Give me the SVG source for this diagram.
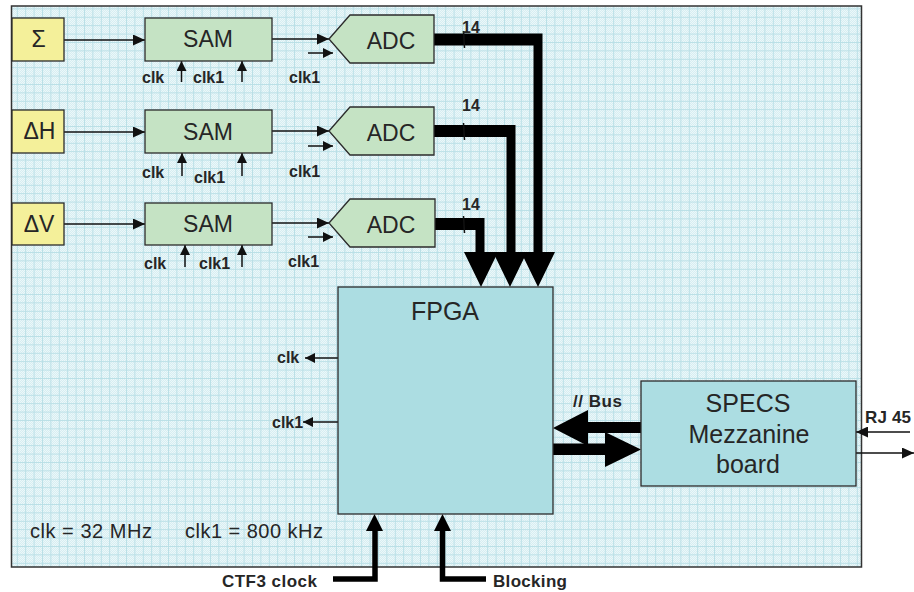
<svg xmlns="http://www.w3.org/2000/svg" width="914" height="592" viewBox="0 0 914 592">
<style>
.box{stroke:#2b2b2b;stroke-width:1.3}
.yel{fill:#f4f09a}
.grn{fill:#c5e3c4}
.cyan{fill:#acdde2}
.big{font-family:"Liberation Sans",Arial,sans-serif;font-size:23px;fill:#262626;text-anchor:middle}
.huge{font-family:"Liberation Sans",Arial,sans-serif;font-size:25px;fill:#262626;text-anchor:middle}
.lbl{font-family:"Liberation Sans",Arial,sans-serif;font-weight:bold;font-size:16px;fill:#262626}
.lbl2{font-family:"Liberation Sans",Arial,sans-serif;font-weight:bold;font-size:17px;fill:#262626}
.reg{font-family:"Liberation Sans",Arial,sans-serif;font-size:20px;fill:#262626}
.thin{stroke:#111;stroke-width:1.5;fill:none}
.bus{fill:#000}
</style>
<defs>
<pattern id="dots" width="2" height="2" patternUnits="userSpaceOnUse"><rect width="2" height="2" fill="#d6eef2"/><rect width="1" height="1" fill="#ecf7f9"/><rect x="1" y="1" width="1" height="1" fill="#ecf7f9"/></pattern>
<pattern id="grid" width="8.4" height="8.4" patternUnits="userSpaceOnUse"><path d="M0 0.5H8.4M0.5 0V8.4" stroke="#b9dfe6" stroke-width="1" fill="none"/></pattern>
<marker id="ah" markerUnits="userSpaceOnUse" markerWidth="12" markerHeight="11" refX="12" refY="5.5" orient="auto"><path d="M0,0L12,5.5L0,11z" fill="#111"/></marker>
<marker id="ahs" markerUnits="userSpaceOnUse" markerWidth="10" markerHeight="10" refX="10" refY="5" orient="auto"><path d="M0,0L10,5L0,10z" fill="#111"/></marker>
</defs>
<g id="board">
<rect x="11.5" y="6" width="850" height="561" fill="url(#dots)"/>
<rect x="11.5" y="6" width="850" height="561" fill="url(#grid)"/>
<rect x="11.5" y="6" width="850" height="561" fill="none" stroke="#333" stroke-width="1.5"/>
</g>
<g id="connectors">
<line class="thin" x1="64" y1="40" x2="145" y2="40" marker-end="url(#ah)"/>
<line class="thin" x1="64" y1="132" x2="145" y2="132" marker-end="url(#ah)"/>
<line class="thin" x1="64" y1="224" x2="145" y2="224" marker-end="url(#ah)"/>
<line class="thin" x1="272" y1="39" x2="329" y2="39" marker-end="url(#ah)"/>
<line class="thin" x1="272" y1="131" x2="329" y2="131" marker-end="url(#ah)"/>
<line class="thin" x1="272" y1="223" x2="329" y2="223" marker-end="url(#ah)"/>
<line class="thin" x1="308" y1="53" x2="333" y2="53" marker-end="url(#ahs)"/>
<line class="thin" x1="308" y1="146" x2="333" y2="146" marker-end="url(#ahs)"/>
<line class="thin" x1="308" y1="237" x2="333" y2="237" marker-end="url(#ahs)"/>
<line class="thin" x1="181.5" y1="82" x2="181.5" y2="61" marker-end="url(#ahs)"/>
<line class="thin" x1="242" y1="82" x2="242" y2="61" marker-end="url(#ahs)"/>
<line class="thin" x1="182" y1="176" x2="182" y2="153" marker-end="url(#ahs)"/>
<line class="thin" x1="242" y1="176" x2="242" y2="153" marker-end="url(#ahs)"/>
<line class="thin" x1="185" y1="267" x2="185" y2="245" marker-end="url(#ahs)"/>
<line class="thin" x1="242" y1="267" x2="242" y2="245" marker-end="url(#ahs)"/>
<path class="bus" d="M434 33.5H542.5V252H555L538 287L521 252H533.5V45.5H434Z"/>
<path class="bus" d="M434 125H515.5V252H527L510 287L493 252H506.5V137H434Z"/>
<path class="bus" d="M434 218H484.5V252H498L481 287L464 252H475.5V230H434Z"/>
<line x1="463.5" y1="31" x2="464.5" y2="48" stroke="#111" stroke-width="1.5"/>
<line x1="463.5" y1="123" x2="464.5" y2="140" stroke="#111" stroke-width="1.5"/>
<line x1="463.5" y1="216" x2="464.5" y2="233" stroke="#111" stroke-width="1.5"/>
<line class="thin" x1="338" y1="358" x2="305" y2="358" marker-end="url(#ahs)"/>
<line class="thin" x1="338" y1="422" x2="303" y2="422" marker-end="url(#ahs)"/>
<path class="bus" d="M641 422H588V410L553 428L588 446V433H641Z"/>
<path class="bus" d="M553 443.5H605V432L641 449.5L605 467V455H553Z"/>
<line class="thin" x1="910" y1="432" x2="856" y2="432" marker-end="url(#ah)"/>
<line class="thin" x1="856" y1="453" x2="914" y2="453" marker-end="url(#ah)"/>
<path d="M333 579H375V529" stroke="#000" stroke-width="5.5" fill="none"/>
<path class="bus" d="M366 531H383L374.5 514Z"/>
<path d="M486 579H442.5V529" stroke="#000" stroke-width="5.5" fill="none"/>
<path class="bus" d="M434 531H451L442.5 514Z"/>
</g>
<g id="sigma"><rect class="box yel" x="12" y="18" width="52" height="43"/><text class="big" x="38.5" y="47">Σ</text></g>
<g id="deltaH"><rect class="box yel" x="12" y="110" width="52" height="43"/><text class="big" x="39.5" y="139">ΔH</text></g>
<g id="deltaV"><rect class="box yel" x="12" y="203" width="52" height="42"/><text class="big" x="39" y="232">ΔV</text></g>
<g id="sam1"><rect class="box grn" x="145" y="18" width="127" height="43"/><text class="big" x="208" y="47">SAM</text></g>
<g id="sam2"><rect class="box grn" x="145" y="110" width="127" height="43"/><text class="big" x="208" y="140">SAM</text></g>
<g id="sam3"><rect class="box grn" x="145" y="203" width="127" height="42"/><text class="big" x="208" y="232">SAM</text></g>
<g id="adc1"><path class="box grn" d="M329 39L350 15H434V63H350Z"/><text class="big" x="391" y="49">ADC</text></g>
<g id="adc2"><path class="box grn" d="M329 131L350 107H434V155H350Z"/><text class="big" x="391" y="141">ADC</text></g>
<g id="adc3"><path class="box grn" d="M329 223L350 199H435V247H350Z"/><text class="big" x="391" y="233">ADC</text></g>
<g id="fpga"><rect class="box cyan" x="338" y="287" width="215" height="227"/><text class="huge" x="445" y="320">FPGA</text></g>
<g id="specs"><rect class="box cyan" x="641" y="381" width="215" height="105"/>
<text class="huge" x="748" y="412">SPECS</text><text class="huge" x="749" y="443">Mezzanine</text><text class="huge" x="748" y="473">board</text></g>
<g id="labels">
<text class="lbl" x="142" y="83">clk</text><text class="lbl" x="193" y="83">clk1</text><text class="lbl" x="289" y="83">clk1</text>
<text class="lbl" x="142" y="178">clk</text><text class="lbl" x="194" y="183">clk1</text><text class="lbl" x="289" y="177">clk1</text>
<text class="lbl" x="144" y="269">clk</text><text class="lbl" x="199" y="269">clk1</text><text class="lbl" x="288" y="267">clk1</text>
<text class="lbl" x="462" y="33">14</text><text class="lbl" x="462" y="111">14</text><text class="lbl" x="462" y="210">14</text>
<text class="lbl" x="277" y="363">clk</text><text class="lbl" x="272" y="428">clk1</text>
<text class="lbl2" x="573" y="407" textLength="49">// Bus</text>
<text class="lbl2" x="865" y="423" textLength="46">RJ 45</text>
<text class="lbl2" x="222" y="587" textLength="95">CTF3 clock</text>
<text class="lbl2" x="493" y="587" textLength="74">Blocking</text>
<text class="reg" x="30" y="538" textLength="122">clk = 32 MHz</text>
<text class="reg" x="185" y="538" textLength="138">clk1 = 800 kHz</text>
</g>
</svg>
